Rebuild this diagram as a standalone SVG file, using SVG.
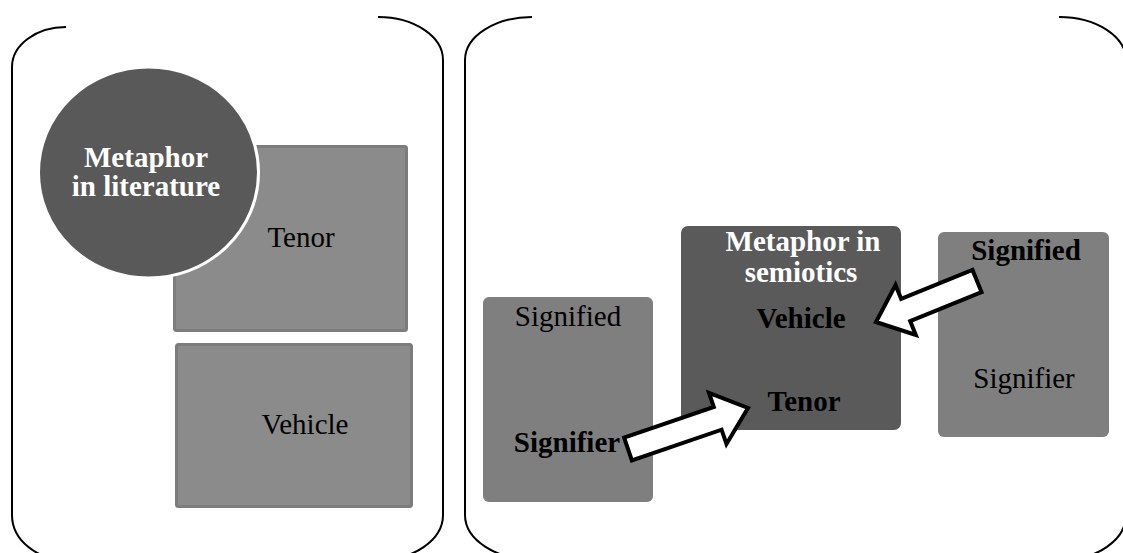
<svg xmlns="http://www.w3.org/2000/svg" width="1123" height="553" viewBox="0 0 1123 553">
<style>
.panel{fill:none;stroke:#000;stroke-width:2}
.lbox{fill:#8b8b8b;stroke:#7c7c7c;stroke-width:3}
.sbox{fill:#7f7f7f}
.dbox{fill:#5a5a5a}
.t{font-family:"Liberation Serif","Times New Roman",serif;font-size:29px;text-anchor:middle;fill:#000}
.b{font-weight:bold}
.w{fill:#fff}
.arrow{fill:#fff;stroke:#000;stroke-width:4;stroke-linejoin:miter}
</style>
<rect width="1123" height="553" fill="#fff"/>
<g id="panel-literature">
<path class="panel" d="M378,17 A65,43 0 0 1 443,60 L443,515 A65,45 0 0 1 378,560 L67,560 A55,45 0 0 1 12,515 L12,67 A54,40 0 0 1 66,27"/>
</g>
<g id="panel-semiotics">
<path class="panel" d="M1059,17 A67,43 0 0 1 1126,60 L1126,515 A65,45 0 0 1 1061,560 L535,560 A70,45 0 0 1 465,515 L465,60 A67,43 0 0 1 532,17"/>
</g>
<g id="lit-tenor">
<rect class="lbox" x="174.5" y="146.5" width="232" height="184" rx="2"/>
<text class="t" x="301" y="247">Tenor</text>
</g>
<g id="lit-vehicle">
<rect class="lbox" x="176.5" y="344.5" width="235" height="162" rx="2"/>
<text class="t" x="305" y="434">Vehicle</text>
</g>
<g id="lit-metaphor">
<ellipse cx="148.5" cy="172.5" rx="110" ry="105.5" fill="#595959" stroke="#fff" stroke-width="3"/>
<text class="t b w" x="146" y="167">Metaphor</text>
<text class="t b w" x="146" y="196">in literature</text>
</g>
<g id="sem-left">
<rect class="sbox" x="483" y="297" width="170" height="205" rx="6"/>
<text class="t" x="568" y="326">Signified</text>
<text class="t b" x="567" y="452">Signifier</text>
</g>
<g id="sem-center">
<rect class="dbox" x="681" y="226" width="220" height="204" rx="7"/>
<text class="t b w" x="803" y="251">Metaphor in</text>
<text class="t b w" x="801" y="282" font-size="28">semiotics</text>
<text class="t b" x="801" y="328">Vehicle</text>
<text class="t b" x="804" y="411">Tenor</text>
</g>
<g id="sem-right">
<rect class="sbox" x="938" y="232" width="171" height="205" rx="6"/>
<text class="t b" x="1026" y="260">Signified</text>
<text class="t" x="1024" y="388">Signifier</text>
</g>
<g id="connectors">
<polygon class="arrow" transform="translate(628,449) rotate(-18.86)" points="0,-12 94.8,-12 94.8,-27 126.8,0 94.8,27 94.8,12 0,12"/>
<polygon class="arrow" transform="translate(977,281) rotate(157.9)" points="0,-12 77,-12 77,-27 109,0 77,27 77,12 0,12"/>
</g>
</svg>
